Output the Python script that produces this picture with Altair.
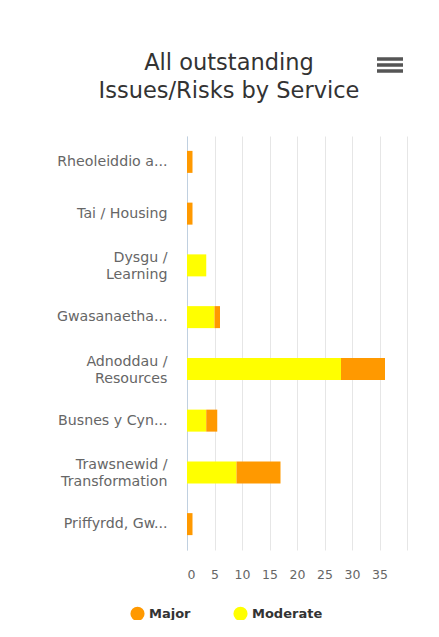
import altair as alt
import pandas as pd

services = ["Rheoleiddio a...", "Tai / Housing", "Dysgu /\nLearning", "Gwasanaetha...",
            "Adnoddau /\nResources", "Busnes y Cyn...", "Trawsnewid /\nTransformation",
            "Priffyrdd, Gw..."]
major = [1, 1, 0, 1, 8, 2, 8, 1]
moderate = [0, 0, 3.5, 5, 28, 3.5, 9, 0]
types = ["Major", "Moderate"]
colors = ["#FF9900", "#FFFF00"]
x_ticks = [0, 5, 10, 15, 20, 25, 30, 35, 40]

rows = []
for s, mj, md in zip(services, major, moderate):
    rows.append({"service": s, "type": "Moderate", "value": md, "ord": 0})
    rows.append({"service": s, "type": "Major", "value": mj, "ord": 1})
df = pd.DataFrame(rows)

FONT = "DejaVu Sans"

bars = alt.Chart(df).mark_bar(size=22).encode(
    y=alt.Y("service:N", sort=services, title=None,
            scale=alt.Scale(paddingInner=0.57, paddingOuter=0.285),
            axis=alt.Axis(labelExpr="split(datum.label, '\\n')", labelFont=FONT,
                          labelFontSize=14.2, labelColor="#666666", labelPadding=20,
                          ticks=False, domainColor="#C0D0E0", domainWidth=1,
                          grid=False, labelLineHeight=17, labelLimit=170,
                          labelOffset={"condition": {"test": "indexof(datum.value, '\\n') >= 0",
                                                     "value": -7}, "value": 0})),
    x=alt.X("value:Q", stack="zero", title=None,
            scale=alt.Scale(domain=[0, 40], nice=False),
            axis=alt.Axis(values=x_ticks, labelExpr="datum.value == 40 ? '' : datum.label",
                          labelFont=FONT, labelFontSize=12.5, labelColor="#666666",
                          labelPadding=18, ticks=False, domain=False,
                          gridColor="#E6E6E6", gridWidth=1)),
    color=alt.Color("type:N", scale=alt.Scale(domain=types, range=colors),
                    legend=alt.Legend(title=None, orient="none", legendX=-57, legendY=470,
                                      direction="horizontal", symbolType="circle",
                                      symbolSize=200, symbolStrokeWidth=0,
                                      labelFont=FONT, labelFontSize=13, labelFontWeight="bold",
                                      labelColor="#333333", columnPadding=42,
                                      symbolOpacity=1)),
    order=alt.Order("ord:Q"),
)

icon_df = pd.DataFrame({"p": [-77, -71, -65]})
icon = alt.Chart(icon_df).mark_rule(strokeWidth=3.5, color="#555555").encode(
    y=alt.Y("p:Q", scale=None), x=alt.value(190), x2=alt.value(216)
)

chart = alt.layer(bars, icon).properties(
    width=220, height=414,
    title=alt.Title(["All outstanding", "Issues/Risks by Service"], font=FONT,
                    fontSize=22.5, fontWeight="normal", color="#333333", lineHeight=28,
                    dx=-68, dy=85, offset=40, anchor="middle"),
    autosize=alt.AutoSizeParams(type="none"),
    padding={"left": 179, "top": 128, "right": 24, "bottom": 70},
).configure_view(stroke=None)

chart.save("out.html", embed_options={"renderer": "svg", "actions": False})
